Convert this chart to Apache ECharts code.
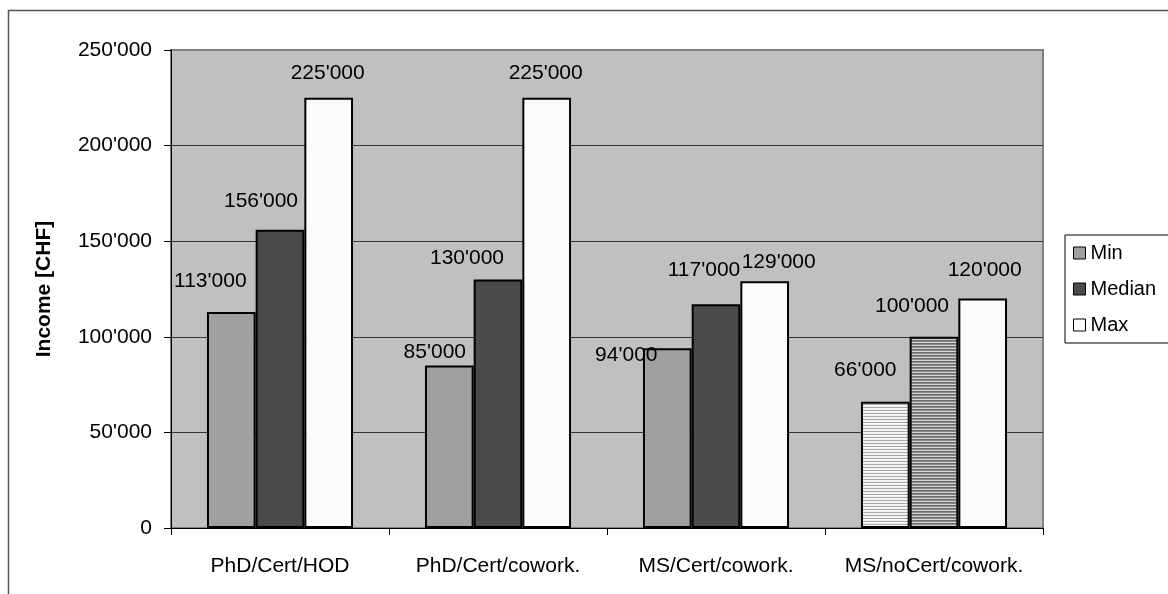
<!DOCTYPE html>
<html>
<head>
<meta charset="utf-8">
<script src="https://cdn.jsdelivr.net/npm/echarts@6/dist/echarts.min.js"></script>
<style>
html,body{margin:0;padding:0;background:#fff;}
#chart{width:1168px;height:594px;}
</style>
</head>
<body>
<div id="chart"></div>
<script>
const categories = ['PhD/Cert/HOD', 'PhD/Cert/cowork.', 'MS/Cert/cowork.', 'MS/noCert/cowork.'];
const seriesNames = ['Min', 'Median', 'Max'];
const minValues = [113000, 85000, 94000, 66000];
const medianValues = [156000, 130000, 117000, 100000];
const maxValues = [225000, 225000, 129000, 120000];
const yMin = 0, yMax = 250000, yStep = 50000;

// label nudges (style, not data)
const labelOffsets = [
  [[-21, -15.5], [-14.5, 2.5], [-41, 22.5], [-20, -16.5]],
  [[-19, -13.5], [-31, -5.5], [-12, -18.5], [-22, -15.5]],
  [[-1, -9.5], [-1, -9.5], [14, -3.5], [2, -13]]
];

const FONT = 'Liberation Sans, Arial, sans-serif';
const fmt = v => String(v).replace(/\B(?=(\d{3})+(?!\d))/g, "'");

function stripe(rows) {
  const c = document.createElement('canvas');
  c.width = 4; c.height = rows.length;
  const ctx = c.getContext('2d');
  rows.forEach((col, i) => { ctx.fillStyle = col; ctx.fillRect(0, i, 4, 1); });
  return { image: c, repeat: 'repeat' };
}
const hatchMin = stripe(['#f6f6f6', '#f0f0f0', '#a8a8a8']);
const hatchMedian = stripe(['#d4d4d4', '#6c6c6c', '#8a8a8a']);

const colors = ['#a0a0a0', '#4b4b4b', '#fbfbfb'];
const specialFill = [hatchMin, hatchMedian, null];
const allValues = [minValues, medianValues, maxValues];

const series = allValues.map((vals, si) => ({
  name: seriesNames[si],
  type: 'bar',
  barGap: '0%',
  barCategoryGap: '33%',
  itemStyle: { color: colors[si], borderColor: '#000', borderWidth: 2 },
  label: {
    show: true, position: 'top', fontSize: 21, fontFamily: FONT, color: '#000',
    formatter: p => fmt(p.value)
  },
  data: vals.map((v, ci) => {
    const d = { value: v, label: { offset: labelOffsets[si][ci] } };
    if (ci === 3 && specialFill[si]) d.itemStyle = { color: specialFill[si] };
    return d;
  })
}));

const chart = echarts.init(document.getElementById('chart'), null, { renderer: 'canvas' });
chart.setOption({
  animation: false,
  backgroundColor: '#fff',
  textStyle: { fontFamily: FONT },
  graphic: [{
    type: 'rect', z: -10,
    shape: { x: 8.5, y: 10.5, width: 1300, height: 700 },
    style: { fill: 'none', stroke: '#555', lineWidth: 1.5 }
  }],
  grid: {
    left: 171, right: 125, top: 50, bottom: 66,
    show: true, backgroundColor: '#c0c0c0', borderColor: '#808080', borderWidth: 2
  },
  legend: {
    orient: 'vertical', left: 1065, top: 235,
    padding: [8, 60, 8, 8],
    backgroundColor: '#fff', borderColor: '#000', borderWidth: 1,
    icon: 'rect', itemWidth: 12, itemHeight: 12, itemGap: 16,
    textStyle: { fontSize: 20, fontFamily: FONT, color: '#000' },
    itemStyle: { borderColor: '#000', borderWidth: 1 },
    data: seriesNames
  },
  xAxis: {
    type: 'category', data: categories,
    axisLine: { lineStyle: { color: '#000', width: 1 } },
    axisTick: { show: true, length: 7, inside: false, alignWithLabel: false, lineStyle: { color: '#000' } },
    axisLabel: { interval: 0, margin: 28, fontSize: 21, fontFamily: FONT, color: '#000' },
    splitLine: { show: false }
  },
  yAxis: {
    type: 'value', min: yMin, max: yMax, interval: yStep,
    name: 'Income [CHF]', nameLocation: 'middle', nameGap: 116, nameRotate: 90,
    nameTextStyle: { fontSize: 21, fontWeight: 'bold', fontFamily: FONT, color: '#000' },
    axisLine: { show: true, lineStyle: { color: '#000', width: 1 } },
    axisTick: { show: true, length: 7, inside: false, lineStyle: { color: '#000' } },
    axisLabel: { margin: 19, fontSize: 21, fontFamily: FONT, color: '#000', formatter: v => fmt(v) },
    splitLine: { show: true, lineStyle: { color: ['#000', '#333', '#333', '#333', '#333', '#808080'], width: 1 } }
  },
  series: series
});
</script>
</body>
</html>
